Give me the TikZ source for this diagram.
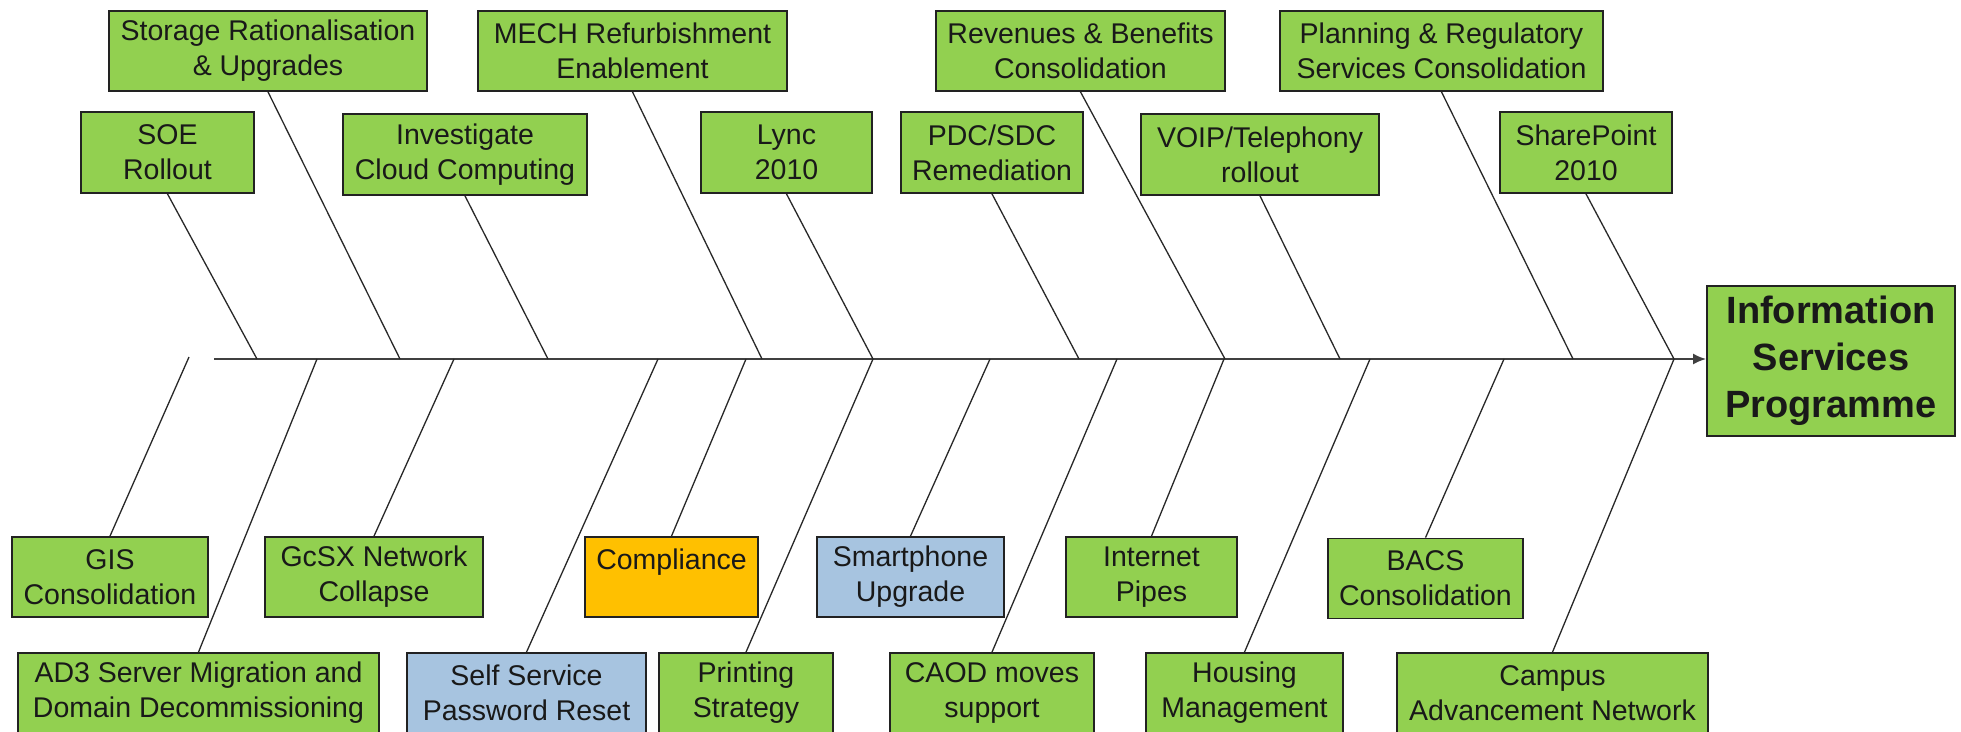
\documentclass[tikz,border=0pt]{standalone}
\usepackage{fontspec}
\setmainfont{Liberation Sans}
\usetikzlibrary{arrows.meta}
\definecolor{gr}{RGB}{146,208,80}
\definecolor{og}{RGB}{255,192,0}
\definecolor{bl}{RGB}{167,196,224}
\definecolor{bd}{RGB}{34,34,34}
\definecolor{ln}{RGB}{40,40,40}
\tikzset{
  box/.style={draw=bd, line width=1.8pt, fill=gr, inner sep=0pt, align=center,
    font=\fontsize{28.5}{35}\selectfont, text={black!90}},
  bone/.style={draw=ln, line width=1.3pt},
  spineline/.style={draw={black!75}, line width=2pt},
}
\begin{document}
\begin{tikzpicture}[x=1pt,y=-1pt]
\useasboundingbox (0,0) rectangle (1961,731);
\clip (0,0) rectangle (1961,731);
\fill[white] (0,0) rectangle (1961,731);

% top row 1
\node[box, minimum width=318pt, minimum height=80pt] (storage) at (268,51) {Storage Rationalisation\\\& Upgrades};
\node[box, minimum width=309pt, minimum height=80pt] (mech) at (632.5,51) {MECH Refurbishment\\Enablement};
\node[box, minimum width=289pt, minimum height=80pt] (rev) at (1080.5,51) {Revenues \& Benefits\\Consolidation};
\node[box, minimum width=323pt, minimum height=80pt] (plan) at (1441.5,51) {Planning \& Regulatory\\Services Consolidation};
% top row 2
\node[box, minimum width=173pt, minimum height=81pt] (soe) at (167.5,152.5) {SOE\\Rollout};
\node[box, minimum width=244pt, minimum height=81pt] (inv) at (465,154.5) {Investigate\\Cloud Computing};
\node[box, minimum width=171pt, minimum height=81pt] (lync) at (786.5,152.5) {Lync\\2010};
\node[box, minimum width=182pt, minimum height=81pt] (pdc) at (992,152.5) {PDC/SDC\\Remediation};
\node[box, minimum width=238pt, minimum height=81pt] (voip) at (1260,154.5) {VOIP/Telephony\\rollout};
\node[box, minimum width=172pt, minimum height=81pt] (sp) at (1586,152.5) {SharePoint\\2010};
% bottom row 1
\node[box, minimum width=196pt, minimum height=80pt] (gis) at (110,577) {GIS\\Consolidation};
\node[box, minimum width=218pt, minimum height=80pt] (gcsx) at (374,577) {GcSX Network\\Collapse};
\node[box, fill=og, minimum width=173pt, minimum height=80pt] (comp) at (671.5,577) {Compliance\\\phantom{X}};
\node[box, fill=bl, minimum width=187pt, minimum height=80pt] (smart) at (910.5,577) {Smartphone\\Upgrade};
\node[box, minimum width=171pt, minimum height=80pt] (inet) at (1151.5,577) {Internet\\Pipes};
\node[box, minimum width=195pt, minimum height=80pt] (bacs) at (1425.5,578.5) {BACS\\Consolidation};
% bottom row 2
\node[box, minimum width=361pt, minimum height=80pt] (ad3) at (198.5,693) {AD3 Server Migration and\\Domain Decommissioning};
\node[box, fill=bl, minimum width=239pt, minimum height=80pt] (sspr) at (526.5,693) {Self Service\\Password Reset};
\node[box, minimum width=174pt, minimum height=80pt] (print) at (746,693) {Printing\\Strategy};
\node[box, minimum width=204pt, minimum height=80pt] (caod) at (992,693) {CAOD moves\\support};
\node[box, minimum width=197pt, minimum height=80pt] (house) at (1244.5,693) {Housing\\Management};
\node[box, minimum width=311pt, minimum height=80pt] (campus) at (1552.5,693) {Campus\\Advancement Network};
% effect
\node[box, minimum width=248pt, minimum height=150pt, font=\fontsize{38}{47}\selectfont\bfseries] (info) at (1831,361) {Information\\Services\\Programme};

% spine
\coordinate (spst) at (214,359);
\draw[spineline, -{Latex[length=13pt,width=11pt]}] (spst) -- (info.west |- 0,359);

% spine points
\coordinate (t1) at (257,359);
\coordinate (t2) at (400,359);
\coordinate (t3) at (548,359);
\coordinate (t4) at (762,359);
\coordinate (t5) at (873,359);
\coordinate (t6) at (1079,359);
\coordinate (t7) at (1225,359);
\coordinate (t8) at (1340,359);
\coordinate (t9) at (1573,359);
\coordinate (t10) at (1674,359);
\coordinate (g0) at (189,357);
\coordinate (b1) at (317,359);
\coordinate (b2) at (454,359);
\coordinate (b3) at (658,359);
\coordinate (b4) at (746,359);
\coordinate (b5) at (873,359);
\coordinate (b6) at (990,359);
\coordinate (b7) at (1117,359);
\coordinate (b8) at (1224,359);
\coordinate (b9) at (1370,359);
\coordinate (b10) at (1504,359);
\coordinate (b11) at (1674,359);

% upper bones
\draw[bone] (soe.south) -- (t1);
\draw[bone] (storage.south) -- (t2);
\draw[bone] (inv.south) -- (t3);
\draw[bone] (mech.south) -- (t4);
\draw[bone] (lync.south) -- (t5);
\draw[bone] (pdc.south) -- (t6);
\draw[bone] (rev.south) -- (t7);
\draw[bone] (voip.south) -- (t8);
\draw[bone] (plan.south) -- (t9);
\draw[bone] (sp.south) -- (t10);
% lower bones
\draw[bone] (gis.north) -- (g0);
\draw[bone] (ad3.north) -- (b1);
\draw[bone] (gcsx.north) -- (b2);
\draw[bone] (sspr.north) -- (b3);
\draw[bone] (comp.north) -- (b4);
\draw[bone] (print.north) -- (b5);
\draw[bone] (smart.north) -- (b6);
\draw[bone] (caod.north) -- (b7);
\draw[bone] (inet.north) -- (b8);
\draw[bone] (house.north) -- (b9);
\draw[bone] (bacs.north) -- (b10);
\draw[bone] (campus.north) -- (b11);
\end{tikzpicture}
\end{document}
